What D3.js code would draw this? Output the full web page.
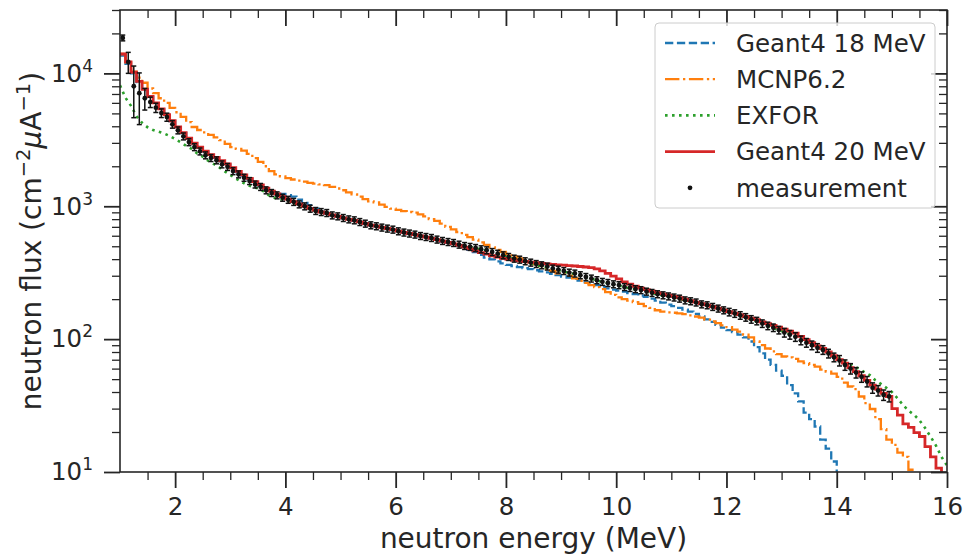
<!DOCTYPE html>
<html>
<head>
<meta charset="utf-8">
<script src="https://cdn.jsdelivr.net/npm/d3@7"></script>
<style>
  body { margin: 0; background: #fff; }
  text { font-family: 'DejaVu Sans', sans-serif; fill: #262626; }
</style>
</head>
<body>
<svg id="chart" width="964" height="557"></svg>
<script>
// Bin edges of the simulated spectra (0.1 MeV bins starting at 1 MeV)
const binEdges = d3.range(0, 151).map(i => Math.round((1 + i * 0.1) * 10) / 10);

// Geant4 18 MeV, one value per bin from 1.0 MeV
const geant18 = [
  13600, 11800, 10000, 8600, 7500, 6650, 5950, 5350, 4850, 4350,
  3920, 3550, 3230, 2960, 2760, 2580, 2430, 2310, 2180, 2060,
  1930, 1810, 1700, 1600, 1510, 1430, 1360, 1300, 1270, 1240,
  1215, 1180, 1120, 1060, 1020, 960, 910, 880, 855, 835,
  815, 795, 778, 758, 738, 720, 705, 690, 677, 663,
  647, 633, 621, 609, 595, 583, 571, 557, 543, 531,
  518, 504, 488, 470, 452, 430, 410, 398, 385, 372,
  362, 355, 348, 342, 336, 330, 324, 318, 310, 303,
  296, 291, 285, 276, 268, 262, 255, 248, 241, 236,
  232, 228, 222, 218, 213, 208, 202, 195, 188, 182,
  177, 172, 167, 161, 155, 148, 141, 135, 128, 122,
  117, 113, 108, 103, 96, 87, 78, 70, 64, 58,
  53, 45, 39, 34, 28, 25, 22, 17.5, 15, 12,
  9.5
];

// MCNP6.2
const mcnp = [
  14000, 12100, 10300, 9300, 8500, 7700, 7100, 6500, 6000, 5500,
  5100, 4700, 4300, 3950, 3750, 3600, 3450, 3300, 3150, 2950,
  2790, 2700, 2620, 2480, 2300, 2160, 2000, 1840, 1740, 1680,
  1630, 1590, 1560, 1530, 1500, 1480, 1460, 1440, 1400, 1360,
  1320, 1270, 1230, 1180, 1130, 1090, 1070, 1030, 990, 960,
  940, 920, 905, 895, 870, 840, 800, 775, 740, 700,
  670, 640, 610, 585, 560, 535, 512, 490, 470, 453,
  438, 420, 405, 392, 380, 366, 354, 340, 326, 313,
  310, 300, 287, 275, 265, 255, 246, 238, 226, 215,
  206, 200, 195, 190, 184, 177, 172, 165, 161, 159,
  158, 156, 154, 151, 148, 145, 140, 136, 132, 127,
  123, 118, 114, 108, 103, 96, 90, 85, 81, 77,
  74, 73, 71, 68, 66, 64, 62, 59, 57, 55,
  52, 47, 44, 42, 37, 33, 29.8, 25, 21, 17.5,
  16, 14, 13, 10.4, 8.5
];

// EXFOR, one value per 0.1 MeV from 1.0 to 16.0 MeV
const exfor = [
  8130, 6550, 5700, 4750, 4250, 3930, 3750, 3640, 3530, 3380,
  3200, 3030, 2850, 2700, 2500, 2360, 2200, 2080, 1960, 1830,
  1720, 1620, 1530, 1450, 1400, 1365, 1300, 1210, 1160, 1130,
  1110, 1075, 1040, 1005, 970, 940, 912, 896, 870, 846,
  827, 806, 790, 772, 750, 729, 713, 699, 685, 672,
  656, 641, 629, 617, 604, 592, 582, 569, 554, 543,
  533, 521, 508, 498, 489, 479, 469, 457, 444, 431,
  419, 407, 397, 387, 377, 367, 357, 349, 341, 334,
  327, 319, 312, 305, 297, 289, 281, 273, 266, 261,
  256, 250, 244, 239, 235, 230, 225, 220, 215, 211,
  207, 203, 198, 194, 190, 185, 181, 177, 172, 167,
  162, 157, 153, 148, 143, 138, 133, 128, 123, 119,
  115, 111, 107, 102, 97, 93, 89, 85, 81, 77,
  74, 70, 66.5, 63, 60, 56.5, 53.6, 49, 46, 43,
  40, 36, 32, 29, 27, 24.5, 21.5, 18.5, 15.8, 13,
  11.2
];

// Geant4 20 MeV
const geant20 = [
  14000, 12200, 10200, 8700, 7600, 6700, 6000, 5400, 4900, 4400,
  3950, 3580, 3250, 2980, 2780, 2600, 2450, 2330, 2200, 2080,
  1950, 1830, 1720, 1620, 1530, 1450, 1370, 1300, 1240, 1180,
  1130, 1085, 1040, 1000, 965, 930, 905, 885, 860, 840,
  818, 798, 782, 762, 742, 722, 708, 693, 680, 666,
  650, 636, 624, 612, 598, 586, 574, 560, 546, 534,
  522, 508, 492, 478, 462, 448, 436, 424, 414, 405,
  398, 392, 388, 384, 380, 376, 372, 368, 365, 362,
  360, 357, 355, 352, 349, 345, 338, 326, 312, 298,
  284, 270, 259, 250, 242, 236, 230, 224, 219, 214,
  210, 205, 200, 195, 190, 185, 181, 176, 171, 166,
  161, 157, 153, 148, 144, 140, 135, 131, 127, 123,
  119, 115, 111, 105, 99, 94, 89, 85, 80, 75,
  70, 66, 61, 57, 53, 49, 45, 42, 39, 37,
  30, 26.8, 23, 21.7, 19.8, 18.5, 15.5, 13, 10.7, 9.6
];

// measurement, bin centres 1.05 ... 14.95 MeV
const measEnergy = d3.range(0, 140).map(i => Math.round((1.05 + i * 0.1) * 100) / 100);
const measFlux = [
  18500, 12200, 8000, 7100, 6500, 6080, 5520, 5030, 4690, 4140,
  3730, 3360, 3040, 2790, 2590, 2420, 2310, 2220, 2070, 1980,
  1840, 1740, 1640, 1550, 1460, 1400, 1320, 1260, 1210, 1160,
  1120, 1080, 1035, 1000, 960, 923, 906, 891, 855, 841,
  817, 798, 785, 762, 741, 720, 708, 692, 680, 668,
  649, 635, 624, 613, 598, 588, 578, 562, 549, 539,
  530, 515, 503, 495, 486, 475, 467, 453, 440, 428,
  416, 404, 397, 386, 377, 368, 360, 352, 340, 334,
  326, 317, 312, 303, 294, 286, 278, 270, 265, 259,
  255, 247, 243, 238, 234, 228, 223, 218, 214, 210,
  206, 202, 196, 193, 189, 183, 180, 175, 170, 165,
  160, 156, 151, 146, 141, 137, 131, 126, 122, 117,
  112, 108, 104, 98, 94, 90, 86, 83, 78, 73,
  69, 64, 60, 56, 52, 48, 43, 41, 38, 37
];
// relative uncertainty of each measured point
const measRelErr = [
  0.05, 0.18, 0.42, 0.42, 0.185, 0.09, 0.08, 0.075, 0.07, 0.065,
  0.06, 0.06, 0.06, 0.06, 0.06, 0.06, 0.06, 0.06, 0.06, 0.06,
  0.06, 0.06, 0.06, 0.06, 0.06, 0.06, 0.06, 0.06, 0.06, 0.06,
  0.06, 0.06, 0.06, 0.06, 0.06, 0.06, 0.06, 0.06, 0.06, 0.06,
  0.06, 0.06, 0.06, 0.06, 0.06, 0.06, 0.06, 0.06, 0.06, 0.06,
  0.06, 0.06, 0.06, 0.06, 0.06, 0.06, 0.06, 0.06, 0.06, 0.06,
  0.06, 0.06, 0.06, 0.06, 0.06, 0.06, 0.06, 0.06, 0.06, 0.06,
  0.06, 0.06, 0.06, 0.06, 0.06, 0.06, 0.06, 0.06, 0.06, 0.06,
  0.06, 0.06, 0.06, 0.06, 0.06, 0.06, 0.06, 0.06, 0.06, 0.06,
  0.06, 0.06, 0.06, 0.06, 0.06, 0.06, 0.06, 0.06, 0.06, 0.06,
  0.06, 0.06, 0.06, 0.06, 0.06, 0.06, 0.06, 0.06, 0.06, 0.06,
  0.065, 0.065, 0.065, 0.065, 0.065, 0.065, 0.065, 0.065, 0.065, 0.065,
  0.075, 0.075, 0.075, 0.075, 0.075, 0.075, 0.075, 0.075, 0.075, 0.075,
  0.09, 0.09, 0.09, 0.09, 0.09, 0.09, 0.09, 0.09, 0.09, 0.09
];

const xMajorTicks = [2, 4, 6, 8, 10, 12, 14, 16];
const xMinorTicks = [1.5, 2.5, 3, 3.5, 4.5, 5, 5.5, 6.5, 7, 7.5, 8.5, 9, 9.5,
                     10.5, 11, 11.5, 12.5, 13, 13.5, 14.5, 15, 15.5];
const yMajorTicks = [10, 100, 1000, 10000];

const series = [
  { name: 'Geant4 18 MeV', values: geant18, color: '#1f77b4', width: 2.3, dash: '8.3,3.6' },
  { name: 'MCNP6.2', values: mcnp, color: '#ff7f0e', width: 2.3, dash: '14.4,3.6,2.3,3.6' },
  { name: 'EXFOR', values: exfor, color: '#2ca02c', width: 2.6, dash: '2.6,4.4', points: true },
  { name: 'Geant4 20 MeV', values: geant20, color: '#d62728', width: 2.8, dash: null }
];

const svg = d3.select('#chart');
const plotLeft = 120, plotRight = 947, plotTop = 10, plotBottom = 472;

const x = d3.scaleLinear().domain([1, 16]).range([plotLeft, plotRight]);
const y = d3.scaleLog().domain([10, 30000]).range([plotBottom, plotTop]);

const yMinorTicks = [];
[10, 100, 1000, 10000].forEach(d => {
  for (let m = 2; m <= 9; m++) if (m * d <= 30000) yMinorTicks.push(m * d);
});

svg.append('defs').append('clipPath').attr('id', 'plot-clip')
  .append('rect').attr('x', plotLeft).attr('y', plotTop)
  .attr('width', plotRight - plotLeft).attr('height', plotBottom - plotTop);

const plot = svg.append('g').attr('clip-path', 'url(#plot-clip)');

const line = d3.line().x(d => x(d[0])).y(d => y(d[1]));

series.forEach(s => {
  let pts = s.values.map((v, i) => [binEdges[i], v]);
  if (s.points) {
    line.curve(d3.curveLinear);
  } else {
    pts.push([binEdges[s.values.length], s.values[s.values.length - 1]]);
    line.curve(d3.curveStepAfter);
  }
  plot.append('path')
    .attr('d', line(pts))
    .attr('fill', 'none')
    .attr('stroke', s.color)
    .attr('stroke-width', s.width)
    .attr('stroke-dasharray', s.dash);
});

// measurement with error bars
const meas = measEnergy.map((e, i) => ({ e: e, v: measFlux[i], err: measFlux[i] * measRelErr[i] }));
const mg = plot.append('g').attr('stroke', '#111').attr('stroke-width', 1.5);
mg.selectAll('line.bar').data(meas).enter().append('line')
  .attr('x1', d => x(d.e)).attr('x2', d => x(d.e))
  .attr('y1', d => y(d.v + d.err)).attr('y2', d => y(Math.max(d.v - d.err, 1)));
mg.selectAll('line.capt').data(meas).enter().append('line')
  .attr('x1', d => x(d.e) - 2.5).attr('x2', d => x(d.e) + 2.5)
  .attr('y1', d => y(d.v + d.err)).attr('y2', d => y(d.v + d.err));
mg.selectAll('line.capb').data(meas).enter().append('line')
  .attr('x1', d => x(d.e) - 2.5).attr('x2', d => x(d.e) + 2.5)
  .attr('y1', d => y(d.v - d.err)).attr('y2', d => y(d.v - d.err));
plot.append('g').selectAll('circle').data(meas).enter().append('circle')
  .attr('cx', d => x(d.e)).attr('cy', d => y(d.v)).attr('r', 2.4).attr('fill', '#111');

// axes
function styleAxis(g, width) {
  g.select('.domain').remove();
  g.selectAll('.tick line').attr('stroke', '#262626').attr('stroke-width', width);
  g.attr('font-family', 'DejaVu Sans').attr('font-size', 24.5);
  g.selectAll('.tick text').attr('fill', '#262626');
}

svg.append('g').attr('transform', `translate(0,${plotBottom})`)
  .call(d3.axisBottom(x).tickValues(xMajorTicks).tickSize(16).tickPadding(9.5).tickFormat(d3.format('d')))
  .call(g => styleAxis(g, 1.8));
svg.append('g').attr('transform', `translate(0,${plotBottom})`)
  .call(d3.axisBottom(x).tickValues(xMinorTicks).tickSize(8).tickFormat(''))
  .call(g => styleAxis(g, 1.3));
svg.append('g').attr('transform', `translate(0,${plotTop})`)
  .call(d3.axisTop(x).tickValues(xMajorTicks).tickSize(-16).tickFormat(''))
  .call(g => styleAxis(g, 1.8));
svg.append('g').attr('transform', `translate(0,${plotTop})`)
  .call(d3.axisTop(x).tickValues(xMinorTicks).tickSize(-8).tickFormat(''))
  .call(g => styleAxis(g, 1.3));

const yAxis = svg.append('g').attr('transform', `translate(${plotLeft},0)`)
  .call(d3.axisLeft(y).tickValues(yMajorTicks).tickSize(16).tickPadding(11).tickFormat(''))
  .call(g => styleAxis(g, 1.8));
yAxis.selectAll('.tick text').each(function (d) {
  const t = d3.select(this);
  t.append('tspan').text('10');
  t.append('tspan').attr('dy', -10).attr('font-size', 17).text(Math.round(Math.log10(d)));
});
svg.append('g').attr('transform', `translate(${plotLeft},0)`)
  .call(d3.axisLeft(y).tickValues(yMinorTicks).tickSize(8).tickFormat(''))
  .call(g => styleAxis(g, 1.3));
svg.append('g').attr('transform', `translate(${plotRight},0)`)
  .call(d3.axisRight(y).tickValues(yMajorTicks).tickSize(-16).tickFormat(''))
  .call(g => styleAxis(g, 1.8));
svg.append('g').attr('transform', `translate(${plotRight},0)`)
  .call(d3.axisRight(y).tickValues(yMinorTicks).tickSize(-8).tickFormat(''))
  .call(g => styleAxis(g, 1.3));

// frame
svg.append('rect').attr('x', plotLeft).attr('y', plotTop)
  .attr('width', plotRight - plotLeft).attr('height', plotBottom - plotTop)
  .attr('fill', 'none').attr('stroke', '#262626').attr('stroke-width', 1.6);

// axis labels
svg.append('text').attr('x', (plotLeft + plotRight) / 2).attr('y', 548)
  .attr('text-anchor', 'middle').attr('font-size', 28).text('neutron energy (MeV)');

const yl = svg.append('text').attr('transform', `translate(41,${(plotTop + plotBottom) / 2}) rotate(-90)`)
  .attr('text-anchor', 'middle').attr('font-size', 28);
yl.append('tspan').text('neutron flux (cm');
yl.append('tspan').attr('dy', -11).attr('font-size', 19.5).text('\u22122');
yl.append('tspan').attr('dy', 11).attr('font-style', 'italic').text('\u03bc');
yl.append('tspan').text('A');
yl.append('tspan').attr('dy', -11).attr('font-size', 19.5).text('\u22121');
yl.append('tspan').attr('dy', 11).text(')');

// legend
const legend = svg.append('g');
legend.append('rect').attr('x', 655).attr('y', 23).attr('width', 280).attr('height', 185)
  .attr('rx', 4).attr('fill', 'white').attr('fill-opacity', 0.8)
  .attr('stroke', '#cccccc').attr('stroke-width', 1);
const legendRows = series.map(s => s.name).concat(['measurement']);
legendRows.forEach((name, i) => {
  const cy = 43 + i * 36.2;
  const s = series[i];
  if (s) {
    legend.append('line').attr('x1', 665).attr('x2', 715).attr('y1', cy).attr('y2', cy)
      .attr('stroke', s.color).attr('stroke-width', s.width).attr('stroke-dasharray', s.dash);
  } else {
    legend.append('circle').attr('cx', 690).attr('cy', cy).attr('r', 2.4).attr('fill', '#111');
  }
  legend.append('text').attr('x', 736).attr('y', cy + 8.8).attr('font-size', 24.5).text(name);
});
</script>
</body>
</html>
